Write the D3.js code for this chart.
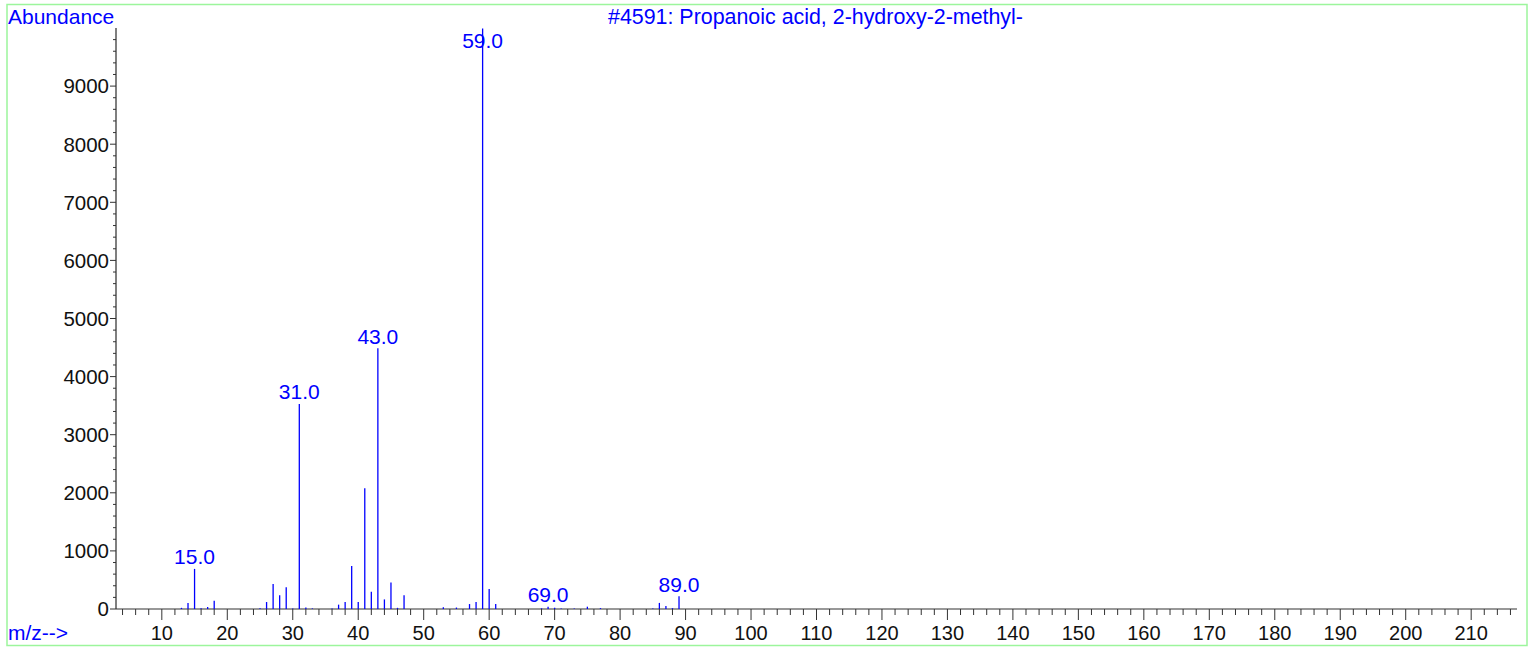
<!DOCTYPE html>
<html lang='en'>
<head>
<meta charset='utf8'>
<title>Spectrum</title>
<script src="https://cdn.jsdelivr.net/npm/d3@7"></script>
<style>
  body { margin: 0; background: #fff; }
  svg text { font-family: 'Liberation Sans', Arial, sans-serif; }
</style>
</head>
<body>
<svg id='chart' width='1529' height='650'></svg>
<script>
// m/z and abundance
var mz =        [13, 14, 15, 16, 17, 18, 25, 26, 27, 28, 29, 30, 31, 32, 33, 36, 37, 38, 39, 40,
                 41, 42, 43, 44, 45, 46, 47, 53, 55, 57, 58, 59, 60, 61, 68, 69, 70, 71, 73, 75,
                 77, 85, 86, 87, 88, 89];
var abundance = [20, 105, 690, 12, 35, 140, 15, 120, 430, 235, 375, 10, 3530, 25, 10, 10, 75, 120, 740, 120,
                 2080, 295, 4490, 165, 455, 20, 235, 30, 25, 85, 120, 9990, 345, 85, 12, 40, 22, 8, 8, 40,
                 15, 8, 105, 52, 15, 218];
var labelled = [15, 31, 43, 59, 69, 89];
var yTicks = [0, 1000, 2000, 3000, 4000, 5000, 6000, 7000, 8000, 9000];
var xTicks = [10, 20, 30, 40, 50, 60, 70, 80, 90, 100, 110, 120, 130, 140, 150, 160, 170, 180, 190, 200, 210];
var title = '#4591: Propanoic acid, 2-hydroxy-2-methyl-';

var svg = d3.select('#chart');
var blue = '#0000ff';

var x = d3.scaleLinear().domain([3, 217]).range([116, 1517]);
var y = d3.scaleLinear().domain([0, 10000]).range([609, 28]);

// frame
svg.append('rect')
    .attr('x', 7).attr('y', 4.5)
    .attr('width', 1520).attr('height', 641)
    .attr('fill', 'none')
    .attr('stroke', '#9cf59c')
    .attr('stroke-width', 1.5);

// y axis: minor every 200, labels every 1000
var yAxis = svg.append('g').attr('transform', 'translate(116,0)');
yAxis.append('line')
    .attr('x1', 0).attr('x2', 0)
    .attr('y1', y(0)).attr('y2', y(10000))
    .attr('stroke', '#555').attr('stroke-width', 1.5);
yAxis.selectAll('.minor')
    .data(d3.range(0, 10000, 200))
    .enter().append('line')
    .attr('x1', function(d) { return d % 1000 == 0 ? -6 : -3; })
    .attr('x2', 0)
    .attr('y1', function(d) { return y(d); })
    .attr('y2', function(d) { return y(d); })
    .attr('stroke', '#333');
yAxis.selectAll('.lbl')
    .data(yTicks)
    .enter().append('text')
    .attr('x', -7)
    .attr('y', function(d) { return y(d); })
    .attr('dy', '0.36em')
    .attr('text-anchor', 'end')
    .attr('font-size', 20.5)
    .attr('fill', '#111')
    .text(function(d) { return d; });

// x axis: minor every 2, labels every 10
var xAxis = svg.append('g').attr('transform', 'translate(0,609)');
xAxis.append('line')
    .attr('x1', x(3)).attr('x2', x(217))
    .attr('y1', 0).attr('y2', 0)
    .attr('stroke', '#333').attr('stroke-width', 1.2);
xAxis.selectAll('.minor')
    .data(d3.range(4, 217, 2))
    .enter().append('line')
    .attr('x1', function(d) { return x(d); })
    .attr('x2', function(d) { return x(d); })
    .attr('y1', 0)
    .attr('y2', function(d) { return d % 10 == 0 ? 11 : 6; })
    .attr('stroke', '#333');
xAxis.selectAll('.lbl')
    .data(xTicks)
    .enter().append('text')
    .attr('x', function(d) { return x(d); })
    .attr('y', 31)
    .attr('text-anchor', 'middle')
    .attr('font-size', 20)
    .attr('fill', '#111')
    .text(function(d) { return d; });

// peaks
var peaks = mz.map(function(m, i) { return {mz: m, ab: abundance[i]}; });
svg.selectAll('.peak')
    .data(peaks)
    .enter().append('line')
    .attr('x1', function(d) { return x(d.mz); })
    .attr('x2', function(d) { return x(d.mz); })
    .attr('y1', y(0))
    .attr('y2', function(d) { return y(d.ab); })
    .attr('stroke', blue)
    .attr('stroke-width', 1.3);

svg.selectAll('.plabel')
    .data(peaks.filter(function(d) { return labelled.indexOf(d.mz) >= 0; }))
    .enter().append('text')
    .attr('x', function(d) { return x(d.mz); })
    .attr('y', function(d) { return Math.max(y(d.ab) - 4.5, 48); })
    .attr('text-anchor', 'middle')
    .attr('font-size', 21)
    .attr('fill', blue)
    .text(function(d) { return d.mz.toFixed(1); });

// texts
svg.append('text')
    .attr('x', 8).attr('y', 23.5)
    .attr('font-size', 21)
    .attr('fill', blue)
    .text('Abundance');
svg.append('text')
    .attr('x', 608).attr('y', 23.5)
    .attr('font-size', 21.4)
    .attr('fill', blue)
    .text(title);
svg.append('text')
    .attr('x', 8).attr('y', 640)
    .attr('font-size', 21)
    .attr('fill', blue)
    .text('m/z-->');
</script>
</body>
</html>
